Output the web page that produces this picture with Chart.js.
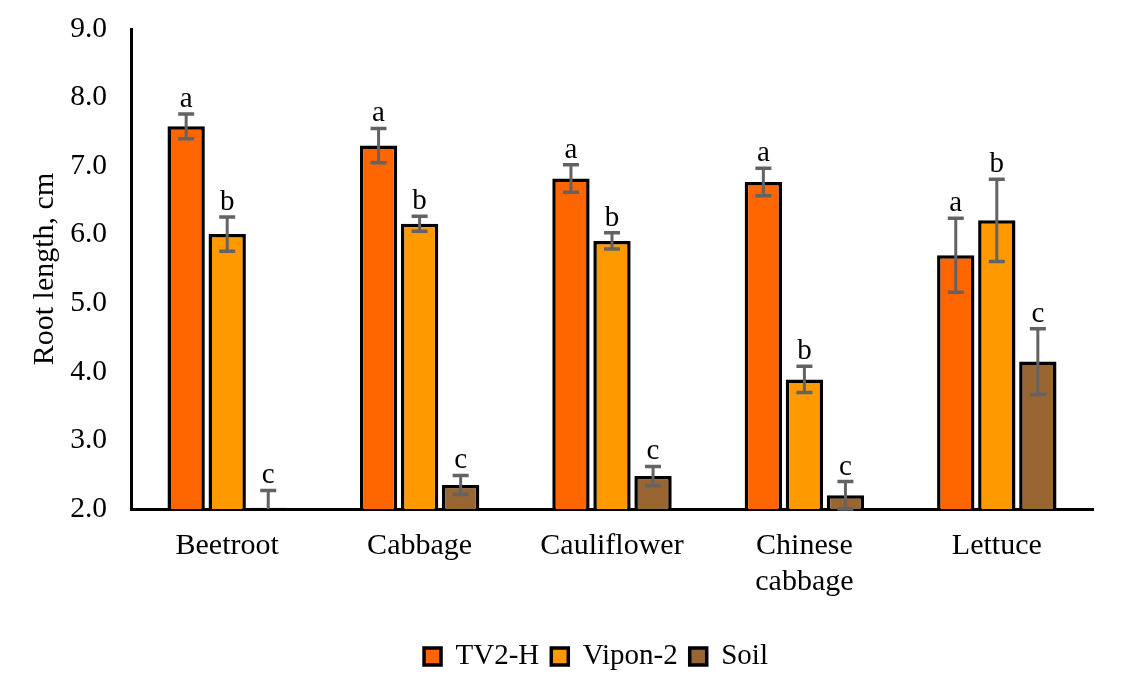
<!DOCTYPE html>
<html>
<head>
<meta charset="utf-8">
<script src="https://cdn.jsdelivr.net/npm/chart.js@4/dist/chart.umd.min.js"></script>
<style>
html,body{margin:0;padding:0;background:#fff;}
#wrap{width:1131px;height:683px;position:relative;}
</style>
</head>
<body>
<div id="wrap"><canvas id="c" width="1131" height="683"></canvas></div>
<script>
const categories = ['Beetroot', 'Cabbage', 'Cauliflower', ['Chinese', 'cabbage'], 'Lettuce'];
const seriesNames = ['TV2-H', 'Vipon-2', 'Soil'];
const tv2h = [7.58, 7.30, 6.82, 6.77, 5.70];
const vipon2 = [6.01, 6.16, 5.91, 3.89, 6.21];
const soil = [2.02, 2.35, 2.48, 2.20, 4.15];
const tv2hErr = [0.18, 0.25, 0.20, 0.20, 0.54];
const vipon2Err = [0.25, 0.11, 0.12, 0.19, 0.60];
const soilErr = [0.25, 0.14, 0.14, 0.20, 0.48];
const tv2hLetters = ['a', 'a', 'a', 'a', 'a'];
const vipon2Letters = ['b', 'b', 'b', 'b', 'b'];
const soilLetters = ['c', 'c', 'c', 'c', 'c'];
const yTicks = [2, 3, 4, 5, 6, 7, 8, 9];

const FONT = "'Liberation Serif', 'Times New Roman', serif";
const errs = [tv2hErr, vipon2Err, soilErr];
const letters = [tv2hLetters, vipon2Letters, soilLetters];

const errorBarPlugin = {
  id: 'errorBars',
  afterLayout(chart) {
    // centre the legend under the plot area rather than the whole canvas
    const lg = chart.legend;
    if (lg) {
      const shift = (chart.chartArea.left + chart.chartArea.right) / 2 - (lg.left + lg.right) / 2 - 16;
      lg.left += shift;
      lg.right += shift;
      if (lg.adjustHitBoxes) lg.adjustHitBoxes();
    }
  },
  afterDatasetsDraw(chart) {
    const ctx = chart.ctx;
    const y = chart.scales.y;
    const area = chart.chartArea;
    chart.data.datasets.forEach((ds, di) => {
      const meta = chart.getDatasetMeta(di);
      meta.data.forEach((bar, i) => {
        const v = ds.data[i];
        const e = errs[di][i];
        const top = y.getPixelForValue(v + e);
        const rawBot = y.getPixelForValue(v - e);
        const bot = Math.min(rawBot, area.bottom);
        ctx.save();
        ctx.strokeStyle = '#636363';
        ctx.lineWidth = 3;
        ctx.beginPath();
        ctx.moveTo(bar.x, top);
        ctx.lineTo(bar.x, bot);
        ctx.stroke();
        ctx.lineWidth = 3.5;
        ctx.beginPath();
        ctx.moveTo(bar.x - 8, top);
        ctx.lineTo(bar.x + 8, top);
        if (rawBot <= area.bottom) {
          ctx.moveTo(bar.x - 8, bot);
          ctx.lineTo(bar.x + 8, bot);
        }
        ctx.stroke();
        ctx.fillStyle = '#000';
        ctx.font = '29px ' + FONT;
        ctx.textAlign = 'center';
        ctx.textBaseline = 'alphabetic';
        ctx.fillText(letters[di][i], bar.x, top - 7);
        ctx.restore();
      });
    });
  }
};

new Chart(document.getElementById('c'), {
  type: 'bar',
  data: {
    labels: categories,
    datasets: [
      { label: seriesNames[0], data: tv2h, backgroundColor: '#FF6600', borderColor: '#000', borderWidth: 3.5 },
      { label: seriesNames[1], data: vipon2, backgroundColor: '#FF9900', borderColor: '#000', borderWidth: 3.5 },
      { label: seriesNames[2], data: soil, backgroundColor: '#996633', borderColor: '#000', borderWidth: 3.5 }
    ]
  },
  options: {
    responsive: false,
    animation: false,
    devicePixelRatio: 1,
    layout: { padding: { top: 29, right: 38, bottom: 2, left: 0 } },
    datasets: { bar: { categoryPercentage: 0.64, barPercentage: 0.91 } },
    plugins: {
      legend: {
        position: 'bottom',
        labels: {
          font: { family: FONT, size: 29 },
          color: '#000',
          boxWidth: 17,
          boxHeight: 17,
          padding: 12
        }
      },
      tooltip: { enabled: false }
    },
    scales: {
      x: {
        grid: { display: false },
        border: { display: true, color: '#000', width: 3 },
        ticks: { font: { family: FONT, size: 30 }, color: '#000', padding: 11, maxRotation: 0 },
        afterFit(scale) { scale.height = 121; }
      },
      y: {
        min: 2, max: 9,
        grid: { display: false, drawTicks: false },
        border: { display: true, color: '#000', width: 3 },
        afterBuildTicks(scale) { scale.ticks = yTicks.map(v => ({ value: v })); },
        ticks: {
          font: { family: FONT, size: 29.5 },
          color: '#000',
          padding: 24,
          callback: v => Number(v).toFixed(1)
        },
        title: { display: true, text: 'Root length, cm', font: { family: FONT, size: 30 }, color: '#000', padding: { top: 27, bottom: 0 } },
        afterFit(scale) {
          scale.width = 131;
          scale.paddingTop = 0;
          scale.paddingBottom = 0;
        }
      }
    }
  },
  plugins: [errorBarPlugin]
});
</script>
</body>
</html>
